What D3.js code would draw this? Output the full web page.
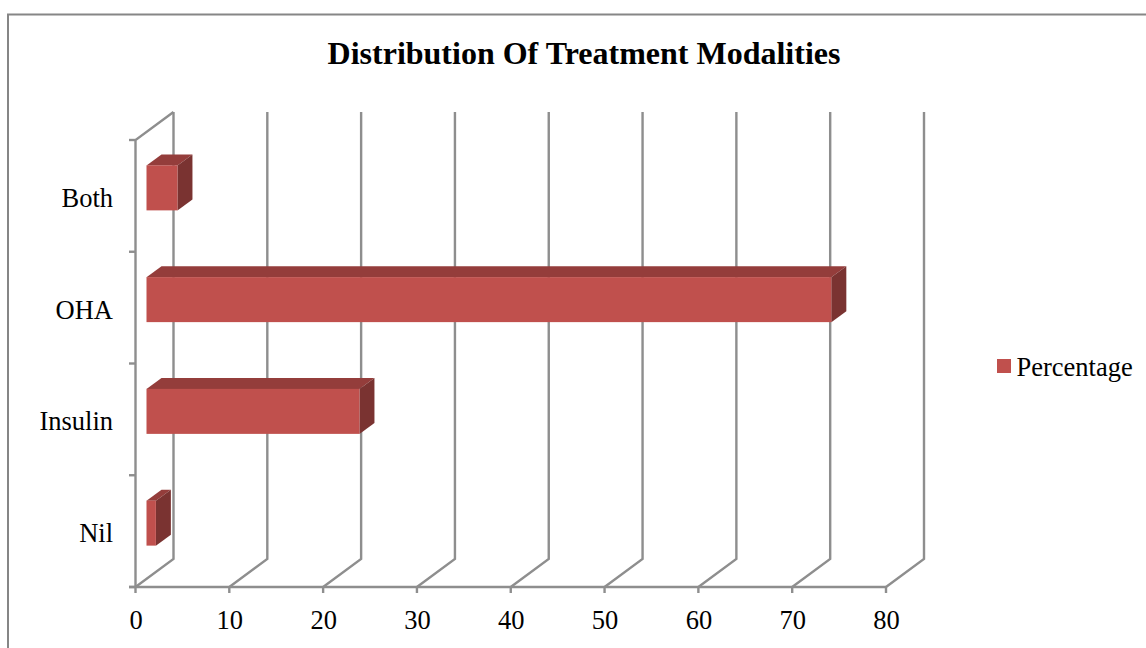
<!DOCTYPE html>
<html><head><meta charset="utf-8">
<script src="https://cdn.jsdelivr.net/npm/d3@7"></script>
<style>html,body{margin:0;padding:0;background:#fff;overflow:hidden}svg{display:block}text{font-family:"Liberation Serif",serif;fill:#000}</style>
</head><body><svg id="c" width="1146" height="648"></svg>
<script>
const categories = ["Nil","Insulin","OHA","Both"];
const percentage = [1, 22.7, 73, 3.3];
const xTicks = [0,10,20,30,40,50,60,70,80];
const seriesName = "Percentage";
const chartTitle = "Distribution Of Treatment Modalities";

const svg = d3.select("#c");
const grey = "#8e8e8e";
const x = d3.scaleLinear().domain([0,80]).range([135.5,886]);
const y = d3.scaleBand().domain(categories).range([587,140]);
const wallDx = 38, wallDy = -28;
const barInsetX = 11, barDx = 15, barDy = -11, barH = 45, barCenterShift = -8;

// outer frame
svg.append("path").attr("d","M8,648V14.5H1146").attr("fill","none").attr("stroke","#868686").attr("stroke-width",2);

// gridlines with floor diagonals
const grid = svg.append("g").attr("fill","none").attr("stroke",grey).attr("stroke-width",2.4);
xTicks.forEach(t=>{
  const p = d3.path();
  p.moveTo(x(t),587); p.lineTo(x(t)+wallDx,587+wallDy); p.lineTo(x(t)+wallDx,140+wallDy);
  grid.append("path").attr("d",p.toString());
  grid.append("line").attr("x1",x(t)).attr("x2",x(t)).attr("y1",587).attr("y2",593);
});
// left wall
grid.append("path").attr("d",`M${x(0)},587V140L${x(0)+wallDx},${140+wallDy}`);
// baseline
grid.append("line").attr("x1",129).attr("x2",x(80)).attr("y1",587).attr("y2",587);
// category ticks
const cuts = categories.map(c=>y(c)).concat([587]);
cuts.forEach(v=>grid.append("line").attr("x1",129).attr("x2",x(0)).attr("y1",v).attr("y2",v));

// bars
const bars = svg.append("g");
categories.forEach((c,i)=>{
  const x0 = x(0)+barInsetX, w = x(percentage[i])-x(0);
  const top = y(c)+y.bandwidth()/2+barCenterShift-barH/2;
  const g = bars.append("g");
  g.append("path").attr("fill","#943d3b")
    .attr("d",`M${x0},${top}l${barDx},${barDy}h${w}l${-barDx},${-barDy}z`);
  g.append("path").attr("fill","#7a3331")
    .attr("d",`M${x0+w},${top}l${barDx},${barDy}v${barH}l${-barDx},${-barDy}z`);
  g.append("rect").attr("x",x0).attr("y",top).attr("width",w).attr("height",barH).attr("fill","#c0504d");
});

// labels
svg.append("g").selectAll("text").data(categories).join("text")
  .attr("x",113).attr("y",c=>y(c)+y.bandwidth()/2+11).attr("text-anchor","end")
  .attr("font-size",26.5).text(d=>d);
svg.append("g").selectAll("text").data(xTicks).join("text")
  .attr("x",t=>x(t)+0.5).attr("y",629).attr("text-anchor","middle")
  .attr("font-size",26.5).text(d=>d);
svg.append("text").attr("x",584).attr("y",64).attr("text-anchor","middle")
  .attr("font-size",32).attr("font-weight","bold").text(chartTitle);
// legend
svg.append("rect").attr("x",997).attr("y",359).attr("width",14).attr("height",14).attr("fill","#c0504d");
svg.append("text").attr("x",1016.5).attr("y",375.5).attr("font-size",26.5).text(seriesName);
</script></body></html>
